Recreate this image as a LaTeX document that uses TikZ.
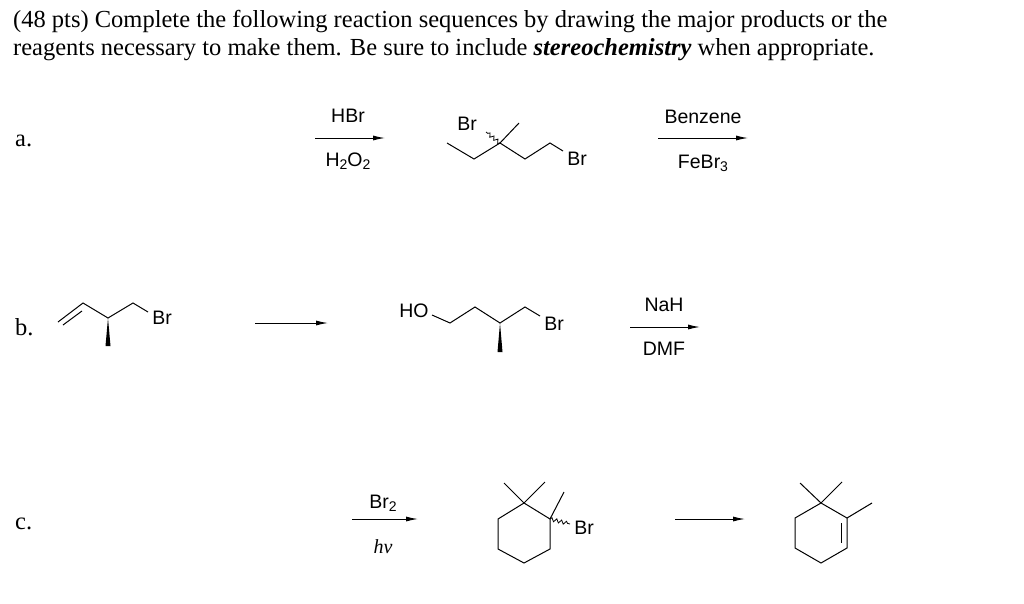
\documentclass[tikz,border=0pt]{standalone}
\usepackage{fontspec}
\setmainfont{Liberation Serif}
\setsansfont{Liberation Sans}
\usetikzlibrary{decorations.pathmorphing,arrows.meta}
\newcommand{\sbs}[1]{\raisebox{-0.3ex}{\fontsize{14}{14}\selectfont #1}}
\begin{document}
\begin{tikzpicture}[x=1pt,y=-1pt,
  bond/.style={line width=1pt},
  rarrow/.style={line width=1pt,-{Latex[length=12pt,width=5pt]}},
  lab/.style={font=\sffamily\fontsize{19.5}{20}\selectfont,inner sep=0pt},
  hdr/.style={font=\fontsize{24.5}{28}\selectfont,inner sep=0pt,anchor=base west},
  wavy/.style={line width=0.8pt,decorate,decoration={snake,amplitude=1.8pt,segment length=5pt}},
  wedge/.style={fill=black}]
\useasboundingbox (0,0) rectangle (1024,603);
\node[hdr] (h1) at (13,27) {(48 pts) Complete the following reaction sequences by drawing the major products or the};
\node[hdr] (h2) at (13,55) {reagents necessary to make them. Be sure to include \textbf{\textit{stereochemistry}} when appropriate.};
\node[hdr] (la) at (15,146) {a.};
\node[hdr] (lb) at (15,335) {b.};
\node[hdr] (lc) at (15,529) {c.};
% a
\coordinate (a1) at (315,138); \coordinate (a2) at (385,138);
\draw[rarrow] (a1) -- (a2);
\node[lab] (hbr) at (348,116) {HBr};
\node[lab] (h2o2) at (348,161) {H\sbs{2}O\sbs{2}};
\draw[bond] (447,143) -- (474,159) -- (500,143) -- (525,159) -- (550,143) -- (563,151);
\draw[bond] (500,143) -- (519,123);
\draw[wavy] (500,143) -- (486,132);
\node[lab] (bra1) at (467,124) {Br};
\node[lab] (bra2) at (577,159) {Br};
\coordinate (a3) at (658,138); \coordinate (a4) at (748,138);
\draw[rarrow] (a3) -- (a4);
\node[lab] (benz) at (703,117) {Benzene};
\node[lab] (febr) at (703,163) {FeBr\sbs{3}};
% b
\draw[bond] (58,322) -- (83,303) -- (108,318) -- (133,303) -- (148,312);
\draw[bond] (63,325) -- (82,311);
\fill[wedge] (108,318) -- (105.5,346) -- (110.5,346) -- cycle;
\node[lab] (brb1) at (162,318) {Br};
\coordinate (b1) at (255,323); \coordinate (b2) at (328,323);
\draw[rarrow] (b1) -- (b2);
\node[lab] (ho) at (414,311) {HO};
\draw[bond] (432,315) -- (450,323) -- (475,307) -- (500,323) -- (525,307) -- (540,316);
\fill[wedge] (500,323) -- (497.5,352) -- (502.5,352) -- cycle;
\node[lab] (brb2) at (554,324) {Br};
\coordinate (b3) at (630,327); \coordinate (b4) at (700,327);
\draw[rarrow] (b3) -- (b4);
\node[lab] (nah) at (664,305) {NaH};
\node[lab] (dmf) at (664,349) {DMF};
% c
\coordinate (c1) at (352,519); \coordinate (c2) at (418,519);
\draw[rarrow] (c1) -- (c2);
\node[lab] (br2) at (383,503) {Br\sbs{2}};
\node[font=\fontsize{20}{20}\selectfont\itshape,inner sep=0pt] (hv) at (383,547) {hv};
\draw[bond] (524,503) -- (550,519) -- (550,549) -- (524,563) -- (498,549) -- (498,519) -- cycle;
\draw[bond] (524,503) -- (504,483);
\draw[bond] (524,503) -- (545,482);
\draw[bond] (550,519) -- (564,492);
\draw[wavy] (550,519) -- (570,524);
\node[lab] (brc) at (584,528) {Br};
\coordinate (c3) at (675,519); \coordinate (c4) at (745,519);
\draw[rarrow] (c3) -- (c4);
\draw[bond] (821,503) -- (847,518) -- (847,548) -- (821,563) -- (795,548) -- (795,518) -- cycle;
\draw[bond] (841,523) -- (841,543);
\draw[bond] (821,503) -- (800,483);
\draw[bond] (821,503) -- (842,482);
\draw[bond] (847,518) -- (872,503);
\end{tikzpicture}
\end{document}
